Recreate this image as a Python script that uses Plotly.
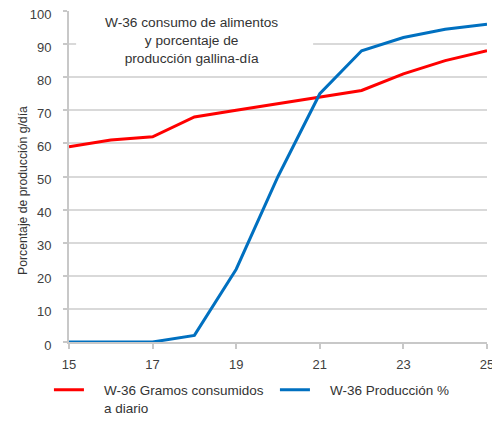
import plotly.graph_objects as go

dias = [15, 16, 17, 18, 19, 20, 21, 22, 23, 24, 25]
gramos = [59, 61, 62, 68, 70, 72, 74, 76, 81, 85, 88]
produccion = [0, 0, 0, 2, 22, 50, 75, 88, 92, 94.5, 96]

x_ticks = [15, 17, 19, 21, 23, 25]
y_ticks = list(range(0, 101, 10))

FONT = 'Liberation Sans, Arial, sans-serif'
GRID = '#d9d9d9'
PAD = '\u00a0' * 4  # extra gap between legend symbol and text

fig = go.Figure()
fig.add_trace(go.Scatter(
    x=dias, y=gramos, mode='lines',
    name=PAD + 'W-36 Gramos consumidos<br>' + PAD + 'a diario',
    line=dict(color='#ff0000', width=3),
    cliponaxis=False
))
fig.add_trace(go.Scatter(
    x=dias, y=produccion, mode='lines',
    name=PAD + 'W-36 Producción %',
    line=dict(color='#0070c0', width=3),
    cliponaxis=False
))

# white box behind the title, hiding the top gridlines like the original
fig.add_shape(type='rect', xref='x', yref='y', x0=15.17, x1=20.84, y0=84, y1=104,
              fillcolor='white', line_width=0, layer='above')
fig.add_annotation(
    xref='x', yref='paper', x=17.92, y=0.995, yanchor='top', showarrow=False,
    text='W-36 consumo de alimentos<br>y porcentaje de<br>producción gallina-día',
    font=dict(family=FONT, size=13.7, color='#333333'), align='center'
)
# y axis title, placed by hand (it sits a little below the axis middle)
fig.add_annotation(
    xref='paper', yref='paper', x=-0.132, y=0.459, showarrow=False, textangle=-90,
    text='Porcentaje de producción g/día',
    font=dict(family=FONT, size=12.2, color='#333333')
)

fig.update_layout(
    width=492, height=407,
    margin=dict(l=61, r=13, t=3, b=73, autoexpand=False),
    plot_bgcolor='white', paper_bgcolor='white',
    font=dict(family=FONT, size=13, color='#404040'),
    showlegend=True,
    legend=dict(orientation='h', x=-0.048, xanchor='left', y=-0.098, yanchor='top',
                entrywidth=181, entrywidthmode='pixels', valign='top',
                font=dict(family=FONT, size=13.5, color='#333333'))
)
fig.update_xaxes(
    range=[15, 25], tickvals=x_ticks, showgrid=False, automargin=False,
    showline=True, linecolor='#c8c8c8', linewidth=2,
    ticks='outside', ticklen=5, tickcolor='#c8c8c8', tickwidth=1.5,
    ticklabelstandoff=4, ticklabeloverflow='allow'
)
fig.update_yaxes(
    range=[0, 100], tickvals=y_ticks, showgrid=True, gridcolor=GRID, gridwidth=2,
    zeroline=False, showline=True, linecolor='#c8c8c8', linewidth=2, automargin=False,
    ticks='outside', ticklen=4, tickcolor='#c8c8c8', tickwidth=1.5,
    ticklabelstandoff=9, ticklabelshift=3, ticklabeloverflow='allow'
)

fig.write_html('out.html')
